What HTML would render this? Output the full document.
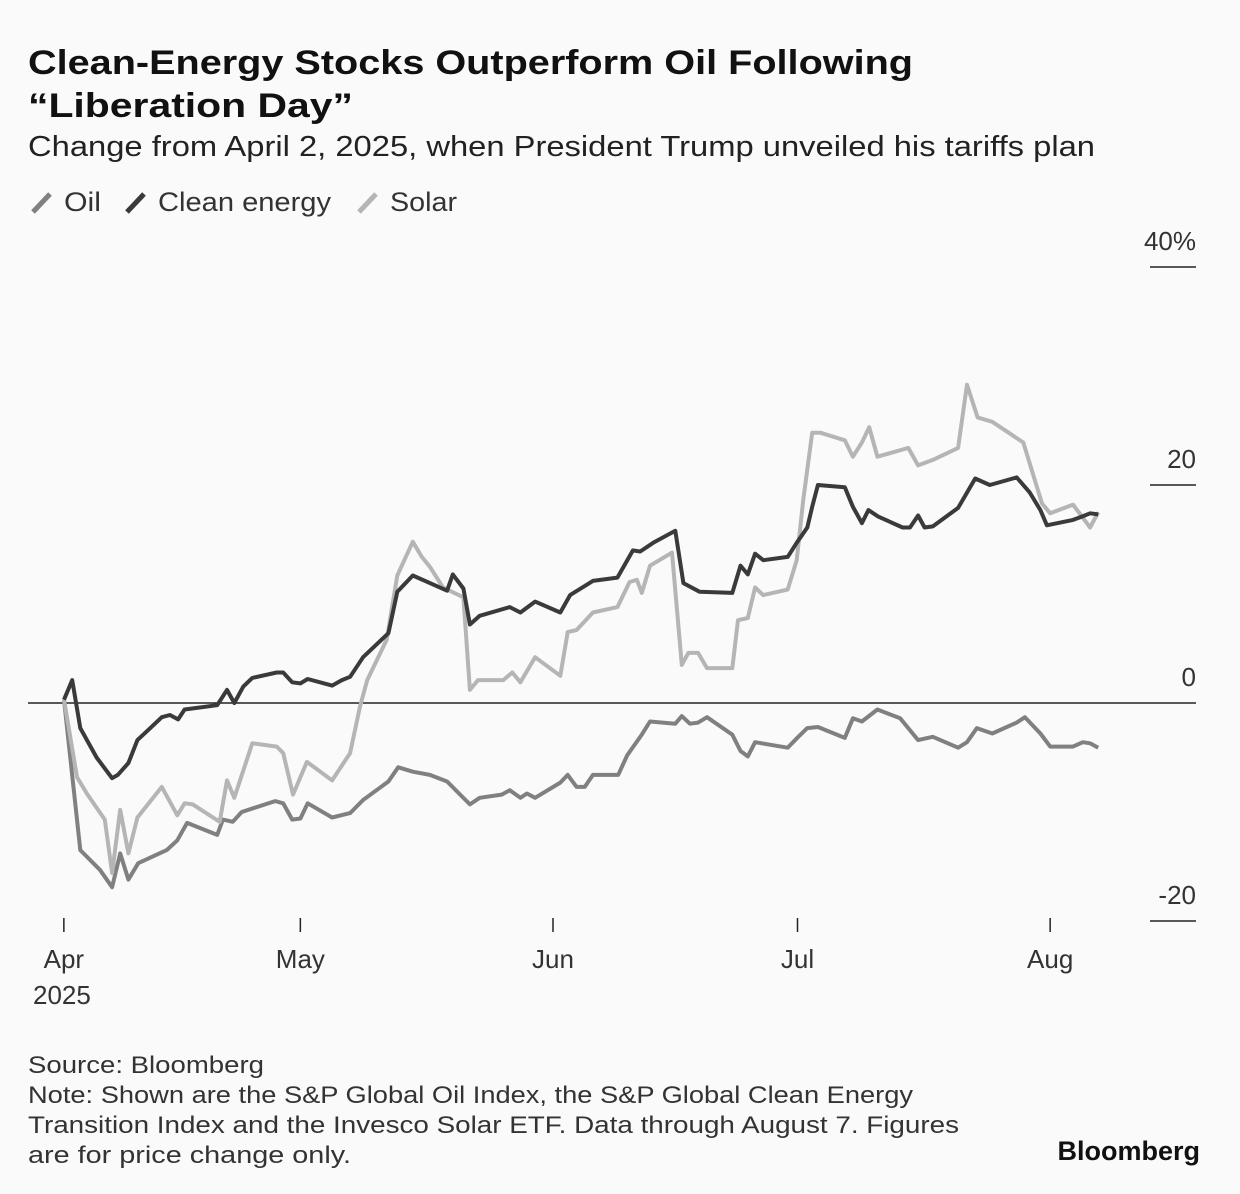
<!DOCTYPE html>
<html><head><meta charset="utf-8">
<style>
body{margin:0;background:#fafafa;width:1240px;height:1194px;overflow:hidden;font-family:"Liberation Sans",sans-serif;color:#222}
svg{position:absolute;left:0;top:0}
</style></head>
<body>
<svg width="1240" height="1194">
<rect width="1240" height="1194" fill="#fafafa"/>
<text x="28" y="74" font-size="34" font-weight="bold" fill="#111" textLength="885" lengthAdjust="spacingAndGlyphs">Clean-Energy Stocks Outperform Oil Following</text>
<text x="28" y="117" font-size="34" font-weight="bold" fill="#111" textLength="325" lengthAdjust="spacingAndGlyphs">“Liberation Day”</text>
<text x="28" y="156" font-size="29" fill="#222" textLength="1067" lengthAdjust="spacingAndGlyphs">Change from April 2, 2025, when President Trump unveiled his tariffs plan</text>
<g>
<g><line x1="33" y1="212" x2="50" y2="194" stroke="#808080" stroke-width="5"/><text x="64" y="211" font-size="27" fill="#333" textLength="37" lengthAdjust="spacingAndGlyphs">Oil</text></g>
<g><line x1="127" y1="212" x2="144" y2="194" stroke="#3a3a3a" stroke-width="5"/><text x="158" y="211" font-size="27" fill="#333" textLength="173" lengthAdjust="spacingAndGlyphs">Clean energy</text></g>
<g><line x1="359" y1="212" x2="376" y2="194" stroke="#b5b5b5" stroke-width="5"/><text x="390" y="211" font-size="27" fill="#333" textLength="67" lengthAdjust="spacingAndGlyphs">Solar</text></g>
</g>
<g id="axes"></g>
<g id="series"></g>
<text x="28" y="1073" font-size="24" fill="#333" textLength="236" lengthAdjust="spacingAndGlyphs">Source: Bloomberg</text>
<text x="28" y="1103" font-size="24" fill="#333" textLength="885" lengthAdjust="spacingAndGlyphs">Note: Shown are the S&amp;P Global Oil Index, the S&amp;P Global Clean Energy</text>
<text x="28" y="1133" font-size="24" fill="#333" textLength="931" lengthAdjust="spacingAndGlyphs">Transition Index and the Invesco Solar ETF. Data through August 7. Figures</text>
<text x="28" y="1163" font-size="24" fill="#333" textLength="323" lengthAdjust="spacingAndGlyphs">are for price change only.</text>
<text x="1200" y="1160" font-size="27" font-weight="bold" fill="#111" text-anchor="end">Bloomberg</text>
</svg>
<script>
const yTicks=[40,20,0,-20];
const yTickLabels=["40%","20","0","-20"];
const xTickDays=[-1,29,60,90,121];
const xTickLabels=["Apr","May","Jun","Jul","Aug"];
const cleanDays=[0,1,2,4,5.9,6.6,7.9,9,10.3,12,13,14,14.8,18.8,20,20.9,22,23.1,26.1,26.9,28,29,29.9,32.9,34.1,35.1,36.7,39.8,40.9,42.8,44.9,47,47.7,49,49.8,51,54.7,56,57.8,60.9,62.1,64.9,67.9,69.8,70.7,72.3,75,76,78,82,83,83.9,84.8,85.8,88.8,89.9,91.2,91.8,92.5,95.8,96.8,97.9,98.7,99.9,102.9,103.8,104.8,105.6,106.6,109.7,110.8,111.8,113.6,116.9,118.5,119.8,120.6,123.8,124.9,125.9,126.9];
const cleanVals=[0.3,2.1,-2.3,-5,-6.9,-6.6,-5.5,-3.4,-2.5,-1.3,-1.1,-1.5,-0.6,-0.2,1.2,0,1.5,2.3,2.8,2.8,1.9,1.8,2.2,1.6,2.1,2.4,4.2,6.4,10.2,11.7,11.0,10.3,11.8,10.5,7.2,8.0,8.8,8.3,9.3,8.3,9.9,11.2,11.5,14.0,13.9,14.7,15.8,11.0,10.2,10.1,12.6,11.8,13.7,13.1,13.4,14.7,16.1,18.0,20.0,19.8,18.0,16.5,17.7,17.1,16.1,16.1,17.2,16.1,16.2,17.9,19.3,20.6,20.0,20.7,19.3,17.7,16.3,16.8,17.1,17.4,17.3,18.1];
const solarDays=[0,1.6,2.8,5,5.9,6.9,7.9,9,12,13.9,14.8,15.8,19.1,20,20.9,23.1,26.1,26.9,28.1,29.8,32.9,35.1,36.3,37.2,39.6,40.9,42.8,43.9,44.9,46.5,49,49.8,50.8,53.9,55,56,57.8,60.9,61.8,62.9,64.9,67.9,69.4,70.3,70.9,71.9,74.6,75.8,76.6,77.8,78.9,82,82.7,83.9,84.8,85.8,88.8,89.9,90.7,91.8,92.8,95.8,96.8,97.9,98.8,99.8,103.6,104.8,106.6,109.7,110.8,112.1,113.9,117.7,120,121,123.8,125.9,126.9];
const solarVals=[0.3,-6.8,-8.3,-10.7,-15.6,-9.8,-13.8,-10.5,-7.7,-10.3,-9.2,-9.3,-10.9,-7.1,-8.7,-3.7,-4.0,-4.6,-8.4,-5.4,-7.1,-4.6,-0.4,2.1,5.8,11.7,14.8,13.4,12.5,10.6,9.7,1.2,2.1,2.1,2.8,1.9,4.2,2.5,6.5,6.7,8.3,8.8,11.1,11.3,10.1,12.6,13.8,3.5,4.6,4.6,3.2,3.2,7.6,7.8,10.6,9.9,10.4,13.1,18.6,24.8,24.8,24.1,22.6,23.9,25.3,22.6,23.4,21.8,22.3,23.4,29.2,26.2,25.8,23.9,18.3,17.4,18.2,16.1,17.5];
const oilDays=[0,2,4.4,5.9,6.9,7.9,9.1,12.6,13.9,15.1,18.8,19.5,20.7,21.8,25.9,26.9,28,29,29.9,32.9,35.1,36.7,39.8,41,42.8,44.9,47,49.8,51,53.7,54.7,56,56.8,57.8,60.9,61.8,62.9,63.9,64.9,68,69.1,70.9,71.9,75,75.8,76.8,77.8,78.9,82,83,83.9,84.8,88.8,90.1,91.2,92.5,95.8,96.8,97.9,99.8,102.6,104.8,106.6,109.7,110.8,112,113.9,116.9,117.9,119.8,121,123.8,125,125.9,126.9];
const oilVals=[0.3,-13.5,-15.3,-16.9,-13.8,-16.2,-14.7,-13.5,-12.6,-11.0,-12.1,-10.7,-10.9,-10.0,-9.0,-9.2,-10.7,-10.6,-9.2,-10.5,-10.1,-8.9,-7.2,-5.9,-6.3,-6.6,-7.2,-9.3,-8.7,-8.4,-8.0,-8.7,-8.3,-8.7,-7.3,-6.6,-7.7,-7.7,-6.6,-6.6,-4.8,-2.9,-1.7,-1.9,-1.2,-1.9,-1.8,-1.3,-2.9,-4.4,-4.9,-3.6,-4.1,-3.1,-2.3,-2.2,-3.2,-1.4,-1.7,-0.6,-1.4,-3.4,-3.1,-4.1,-3.6,-2.3,-2.8,-1.8,-1.3,-2.8,-4.0,-4.0,-3.6,-3.7,-4.1];

const NS="http://www.w3.org/2000/svg";
function xs(d){return 64+d*8.15;}
function ys(v){return 703-v*10.9;}
const axes=document.getElementById('axes');
const series=document.getElementById('series');
function mk(tag,attrs,parent){const e=document.createElementNS(NS,tag);for(const k in attrs)e.setAttribute(k,attrs[k]);parent.appendChild(e);return e;}
yTicks.forEach((t,i)=>{
  if(t!==0){
    const l=mk('line',{x1:1150,x2:1196,y1:ys(t),y2:ys(t),stroke:'#222','stroke-width':1.5},axes);
    
    
  }
  const tx=mk('text',{x:1196,y:ys(t)-17,'font-size':26,fill:'#333','text-anchor':'end'},axes);
  tx.textContent=yTickLabels[i];
  
  
});
const zl=mk('line',{x1:28,x2:1196,y1:ys(0),y2:ys(0),stroke:'#222','stroke-width':1.5},axes);


xTickDays.forEach((d,i)=>{
  const x=xs(d)+(i===0?8:0);
  const l=mk('line',{x1:x,x2:x,y1:918,y2:932,stroke:'#222','stroke-width':1.5},axes);
  
  
  const tx=mk('text',{x:x,y:968,'font-size':26,fill:'#333','text-anchor':'middle'},axes);
  tx.textContent=xTickLabels[i];
  
  
});
const yr=mk('text',{x:33,y:1004,'font-size':26,fill:'#333'},axes);
yr.textContent='2025';


function line(days,vals,color,name){
  const pts=days.map((d,i)=>xs(d).toFixed(1)+','+ys(vals[i]).toFixed(1)).join(' ');
  const p=mk('polyline',{points:pts,fill:'none',stroke:color,'stroke-width':4,'stroke-linejoin':'round'},series);
  
  
}
line(oilDays,oilVals,'#808080','oil-line');
line(solarDays,solarVals,'#b5b5b5','solar-line');
line(cleanDays,cleanVals,'#3a3a3a','clean-energy-line');
</script>
</body></html>
